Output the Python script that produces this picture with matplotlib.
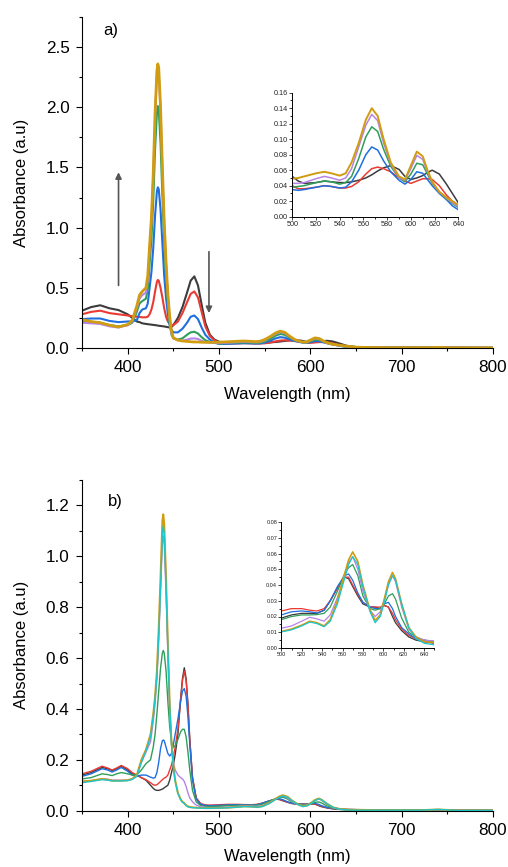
import numpy as np
import matplotlib
matplotlib.use("Agg")
import matplotlib.pyplot as plt
from matplotlib.ticker import MultipleLocator, FormatStrFormatter

plt.rcParams['font.family'] = ['Liberation Sans', 'DejaVu Sans']

# ---------------- Panel a data ----------------
a_wl = [350, 360, 370, 380, 390, 400, 405, 410, 413, 416,
        420, 422, 424, 426, 428, 430, 432, 433, 434, 436, 438, 440, 442, 444, 446, 448, 450,
        455, 460, 465, 469, 473, 477, 481, 485, 490, 495, 500, 505, 510, 520, 527, 533, 540, 545, 550, 556,
        562, 567, 572, 577, 583, 590, 595, 600, 605, 610, 614, 618, 624, 630, 635, 640, 650, 670, 700, 730,
        740, 750, 800]
a_black = [0.31, 0.34, 0.355, 0.33, 0.315, 0.28, 0.25, 0.22, 0.215, 0.205,
           0.2, 0.198, 0.196, 0.194, 0.192, 0.19, 0.188, 0.186, 0.185, 0.183, 0.181, 0.179, 0.176, 0.173, 0.171, 0.175, 0.19,
           0.25, 0.34, 0.46, 0.56, 0.595, 0.52, 0.36, 0.21, 0.11, 0.07, 0.052, 0.046, 0.043, 0.044, 0.046, 0.045, 0.044, 0.044, 0.045, 0.047,
           0.05, 0.054, 0.059, 0.063, 0.066, 0.061, 0.052, 0.048, 0.05, 0.053, 0.057, 0.06, 0.055, 0.042, 0.03, 0.018, 0.008, 0.004, 0.003, 0.004,
           0.008, 0.003, 0.001]
a_red = [0.28, 0.3, 0.31, 0.29, 0.28, 0.27, 0.265, 0.26, 0.258, 0.255,
         0.255, 0.26, 0.28, 0.32, 0.38, 0.47, 0.55, 0.565, 0.56, 0.5, 0.42, 0.33, 0.26, 0.22, 0.2, 0.19, 0.19,
         0.22, 0.29, 0.38, 0.45, 0.47, 0.42, 0.3, 0.18, 0.1, 0.065, 0.04, 0.036, 0.036, 0.038, 0.04, 0.039, 0.037, 0.037, 0.039, 0.045,
         0.055, 0.062, 0.064, 0.062, 0.058, 0.05, 0.046, 0.043, 0.046, 0.049, 0.049, 0.048, 0.04, 0.028, 0.02, 0.015, 0.007, 0.004, 0.003, 0.003,
         0.006, 0.003, 0.001]
a_blue = [0.24, 0.245, 0.245, 0.225, 0.215, 0.22, 0.222, 0.23, 0.29, 0.32,
          0.33, 0.37, 0.5, 0.63, 0.83, 1.1, 1.3, 1.335, 1.32, 1.15, 0.87, 0.6, 0.42, 0.28, 0.19, 0.15, 0.13,
          0.13, 0.16, 0.21, 0.26, 0.27, 0.24, 0.17, 0.11, 0.07, 0.045, 0.035, 0.034, 0.035, 0.038, 0.04, 0.039, 0.037, 0.038, 0.045, 0.06,
          0.08, 0.09, 0.086, 0.072, 0.058, 0.047, 0.042, 0.048, 0.058, 0.056, 0.048, 0.04, 0.03, 0.022, 0.014, 0.009, 0.005, 0.003, 0.002, 0.003,
          0.005, 0.002, 0.001]
a_green = [0.22, 0.215, 0.21, 0.19, 0.18, 0.19, 0.21, 0.3, 0.37, 0.39,
           0.41, 0.49, 0.7, 0.9, 1.22, 1.65, 1.95, 2.01, 1.98, 1.7, 1.27, 0.88, 0.6, 0.37, 0.2, 0.11, 0.08,
           0.07, 0.08, 0.11, 0.13, 0.135, 0.12, 0.09, 0.065, 0.05, 0.042, 0.038, 0.039, 0.04, 0.044, 0.046, 0.045, 0.042, 0.044, 0.052, 0.075,
           0.103, 0.116, 0.11, 0.087, 0.065, 0.05, 0.045, 0.055, 0.069, 0.067, 0.055, 0.043, 0.032, 0.023, 0.017, 0.012, 0.006, 0.003, 0.002, 0.003,
           0.005, 0.002, 0.001]
a_violet = [0.21, 0.205, 0.2, 0.18, 0.17, 0.19, 0.22, 0.33, 0.41, 0.44,
            0.46, 0.56, 0.82, 1.05, 1.42, 1.92, 2.27, 2.33, 2.3, 1.97, 1.48, 1.03, 0.7, 0.43, 0.24, 0.12, 0.08,
            0.065, 0.06, 0.07, 0.078, 0.08, 0.075, 0.06, 0.05, 0.045, 0.043, 0.043, 0.043, 0.044, 0.049, 0.052, 0.05, 0.047, 0.05, 0.062, 0.09,
            0.118, 0.132, 0.124, 0.095, 0.068, 0.05, 0.047, 0.062, 0.079, 0.074, 0.058, 0.044, 0.032, 0.024, 0.018, 0.013, 0.006, 0.003, 0.002, 0.003,
            0.005, 0.002, 0.001]
a_gold = [0.235, 0.22, 0.21, 0.19, 0.175, 0.195, 0.23, 0.35, 0.44, 0.47,
          0.5, 0.6, 0.85, 1.08, 1.45, 1.95, 2.3, 2.36, 2.33, 2.0, 1.5, 1.05, 0.72, 0.45, 0.26, 0.14, 0.085,
          0.065, 0.058, 0.055, 0.052, 0.05, 0.05, 0.048, 0.047, 0.047, 0.048, 0.049, 0.05, 0.052, 0.056, 0.058, 0.056, 0.053, 0.056, 0.07, 0.095,
          0.125, 0.14, 0.13, 0.1, 0.07, 0.052, 0.048, 0.066, 0.084, 0.078, 0.06, 0.045, 0.032, 0.025, 0.02, 0.015, 0.007, 0.003, 0.002, 0.003,
          0.005, 0.002, 0.001]

# ---------------- Panel b data ----------------
b_wl = [350, 360, 372, 378, 383, 388, 393, 400, 405, 410, 415, 420,
        425, 428, 430, 432, 434, 436, 438, 439, 440, 442, 444, 446, 448, 450, 452, 455, 458, 460, 462, 464, 466, 468, 471, 475,
        480, 485, 490, 500, 510, 520, 528, 535, 542, 548, 555, 562,
        566, 570, 575, 580, 587, 592, 597, 601, 605, 609, 612, 618, 625, 632, 640, 650, 680, 720, 740, 760, 800]
b_black = [0.14, 0.15, 0.17, 0.165, 0.158, 0.165, 0.175, 0.16, 0.145, 0.14, 0.13, 0.12,
           0.1, 0.088, 0.082, 0.08, 0.08, 0.082, 0.085, 0.087, 0.09, 0.095, 0.1, 0.12, 0.15, 0.18, 0.22, 0.3, 0.44, 0.52, 0.562, 0.52, 0.42, 0.28, 0.13, 0.05,
           0.025, 0.02, 0.019, 0.019, 0.021, 0.022, 0.022, 0.022, 0.024, 0.03, 0.038, 0.045,
           0.044, 0.039, 0.033, 0.028, 0.026, 0.026, 0.025, 0.027, 0.026, 0.02, 0.016, 0.011, 0.007, 0.005, 0.004, 0.003, 0.002, 0.002, 0.004, 0.001, 0.001]
b_red = [0.145, 0.155, 0.175, 0.168, 0.16, 0.168, 0.178, 0.165, 0.15, 0.14, 0.13, 0.122,
         0.11, 0.102, 0.1, 0.102, 0.108, 0.115, 0.122, 0.125, 0.128, 0.132, 0.14, 0.16, 0.18, 0.21, 0.25, 0.32, 0.44, 0.51, 0.548, 0.51, 0.41, 0.28, 0.13, 0.05,
         0.028, 0.023, 0.022, 0.0235, 0.025, 0.025, 0.024, 0.0235, 0.025, 0.03, 0.038, 0.045,
         0.045, 0.04, 0.034, 0.029, 0.026, 0.026, 0.026, 0.027, 0.026, 0.022, 0.018, 0.012, 0.008, 0.006, 0.005, 0.004, 0.002, 0.002, 0.004, 0.001, 0.001]
b_blue = [0.135, 0.145, 0.165, 0.16, 0.152, 0.16, 0.17, 0.155, 0.14, 0.135, 0.14, 0.14,
          0.132, 0.128, 0.13, 0.15, 0.19, 0.245, 0.275, 0.278, 0.275, 0.25, 0.225, 0.215, 0.225, 0.26, 0.3, 0.36, 0.43, 0.47, 0.48, 0.45, 0.37, 0.26, 0.12, 0.045,
          0.025, 0.021, 0.02, 0.021, 0.023, 0.0235, 0.023, 0.0222, 0.024, 0.03, 0.039, 0.046,
          0.047, 0.043, 0.035, 0.029, 0.026, 0.025, 0.025, 0.028, 0.029, 0.025, 0.02, 0.013, 0.009, 0.006, 0.004, 0.0035, 0.002, 0.002, 0.004, 0.001, 0.001]
b_green = [0.125, 0.13, 0.145, 0.142, 0.138, 0.145, 0.15, 0.145, 0.14, 0.14, 0.16, 0.185,
           0.2, 0.25, 0.3, 0.38, 0.47, 0.56, 0.62, 0.63, 0.62, 0.55, 0.43, 0.33, 0.27, 0.25, 0.255, 0.28, 0.31, 0.32, 0.32, 0.29, 0.23, 0.16, 0.08, 0.035,
           0.02, 0.017, 0.016, 0.018, 0.02, 0.021, 0.021, 0.0212, 0.022, 0.026, 0.036, 0.047,
           0.051, 0.053, 0.046, 0.033, 0.025, 0.024, 0.025, 0.028, 0.033, 0.0345, 0.031, 0.019, 0.01, 0.007, 0.005, 0.004, 0.002, 0.002, 0.004, 0.001, 0.001]
b_violet = [0.115, 0.118, 0.125, 0.124, 0.12, 0.12, 0.12, 0.12, 0.125, 0.14, 0.19, 0.23,
            0.27, 0.35, 0.42, 0.52, 0.67, 0.86, 1.05, 1.08, 1.05, 0.86, 0.62, 0.4, 0.26, 0.19, 0.16, 0.14, 0.13, 0.125, 0.115, 0.095, 0.07, 0.05, 0.035, 0.022,
            0.016, 0.013, 0.012, 0.0125, 0.014, 0.017, 0.0195, 0.0185, 0.017, 0.021, 0.032, 0.046,
            0.054, 0.058, 0.05, 0.036, 0.024, 0.02, 0.023, 0.031, 0.04, 0.046, 0.042, 0.026, 0.012, 0.007, 0.005, 0.0045, 0.002, 0.002, 0.004, 0.001, 0.001]
b_gold = [0.115, 0.118, 0.125, 0.122, 0.118, 0.118, 0.118, 0.12, 0.125, 0.14, 0.2, 0.24,
          0.3, 0.38, 0.45, 0.55, 0.72, 0.92, 1.14, 1.165, 1.13, 0.92, 0.66, 0.42, 0.27, 0.18, 0.12, 0.07, 0.045, 0.035, 0.03, 0.022, 0.017, 0.015, 0.013, 0.012,
          0.011, 0.01, 0.01, 0.0105, 0.012, 0.0145, 0.017, 0.016, 0.014, 0.018, 0.03, 0.047,
          0.056, 0.061, 0.055, 0.04, 0.024, 0.0175, 0.021, 0.031, 0.042, 0.048, 0.044, 0.028, 0.013, 0.007, 0.004, 0.0035, 0.002, 0.002, 0.005, 0.001, 0.001]
b_cyan = [0.11, 0.115, 0.122, 0.12, 0.117, 0.117, 0.117, 0.118, 0.123, 0.135, 0.19, 0.235,
          0.29, 0.37, 0.44, 0.53, 0.69, 0.88, 1.09, 1.12, 1.09, 0.89, 0.64, 0.41, 0.26, 0.17, 0.115, 0.067, 0.043, 0.033, 0.028, 0.02, 0.015, 0.013, 0.012, 0.011,
          0.01, 0.0095, 0.0095, 0.0102, 0.0115, 0.014, 0.0165, 0.0155, 0.0135, 0.017, 0.028, 0.044,
          0.053, 0.058, 0.053, 0.039, 0.023, 0.016, 0.02, 0.029, 0.04, 0.046, 0.043, 0.028, 0.013, 0.006, 0.003, 0.002, 0.002, 0.002, 0.005, 0.001, 0.001]

xticks_main = [400, 500, 600, 700, 800]

C_BLACK = '#3c3c3c'
C_RED = '#ea3a33'
C_BLUE = '#1f6fe0'
C_GREEN = '#2f9e5a'
C_VIOLET = '#b683e8'
C_GOLD = '#d09c10'
C_CYAN = '#1cc6cc'

a_series = [(a_black, C_BLACK), (a_red, C_RED), (a_blue, C_BLUE), (a_green, C_GREEN),
            (a_violet, C_VIOLET), (a_gold, C_GOLD)]
b_series = [(b_black, C_BLACK), (b_red, C_RED), (b_blue, C_BLUE), (b_green, C_GREEN),
            (b_violet, C_VIOLET), (b_gold, C_GOLD), (b_cyan, C_CYAN)]

W, H = 508, 867
fig = plt.figure(figsize=(W / 100, H / 100), dpi=100)


def style_main(ax):
    for s in ['top', 'right']:
        ax.spines[s].set_visible(False)
    ax.tick_params(direction='out', labelsize=12.3, length=4, width=0.8, pad=5)
    ax.tick_params(which='minor', direction='out', length=2.5, width=0.8)
    ax.xaxis.set_minor_locator(MultipleLocator(50))
    ax.set_xlim(350, 800)
    ax.set_xticks(xticks_main)
    ax.set_xlabel('Wavelength (nm)', fontsize=12, labelpad=8)
    ax.set_ylabel('Absorbance (a.u)', fontsize=12, labelpad=12)


def style_inset(ax, fs):
    for s in ['top', 'right']:
        ax.spines[s].set_visible(False)
    ax.tick_params(direction='out', labelsize=fs, length=2, width=0.6, pad=1, colors='#222222')
    ax.tick_params(which='minor', direction='out', length=1.2, width=0.6)
    for s in ['left', 'bottom']:
        ax.spines[s].set_linewidth(0.7)


def fx(px):
    return px / W


def fy(py):
    return 1 - py / H


# ---- Panel a main ----
axa = fig.add_axes([fx(82), fy(348), fx(493) - fx(82), fy(17) - fy(348)])
for vals, c in a_series:
    lw = 2.0 if c == C_GOLD else 1.5
    axa.plot(a_wl, vals, color=c, lw=lw)
axa.set_ylim(0, 2.75)
axa.set_yticks([0.0, 0.5, 1.0, 1.5, 2.0, 2.5])
axa.yaxis.set_minor_locator(MultipleLocator(0.25))
style_main(axa)
axa.text(381, 2.64, 'a)', fontsize=12, ha='center', va='center')
axa.annotate('', xy=(390, 1.46), xytext=(390, 0.52),
             arrowprops=dict(arrowstyle='-|>', color='#555555', lw=1.2,
                             mutation_scale=9, shrinkA=0, shrinkB=0))
axa.annotate('', xy=(489, 0.29), xytext=(489, 0.80),
             arrowprops=dict(arrowstyle='-|>', color='#555555', lw=1.2,
                             mutation_scale=9, shrinkA=0, shrinkB=0))

# ---- Panel a inset ----
axai = fig.add_axes([fx(292.3), fy(216.7), fx(458.3) - fx(292.3), fy(92.7) - fy(216.7)])
for vals, c in a_series:
    lw = 1.4 if c == C_GOLD else 1.1
    axai.plot(a_wl, vals, color=c, lw=lw)
axai.set_xlim(500, 640)
axai.set_ylim(0, 0.16)
axai.set_xticks(np.arange(500, 641, 20))
axai.set_yticks(np.arange(0, 0.161, 0.02))
axai.yaxis.set_major_formatter(FormatStrFormatter('%.2f'))
axai.xaxis.set_minor_locator(MultipleLocator(10))
axai.yaxis.set_minor_locator(MultipleLocator(0.01))
style_inset(axai, 5.2)

# ---- Panel b main ----
axb = fig.add_axes([fx(82), fy(810.7), fx(493) - fx(82), fy(480) - fy(810.7)])
for vals, c in b_series:
    lw = 1.4 if c == C_GOLD else 1.0
    axb.plot(b_wl, vals, color=c, lw=lw)
axb.set_ylim(0, 1.30)
axb.set_yticks([0.0, 0.2, 0.4, 0.6, 0.8, 1.0, 1.2])
axb.yaxis.set_minor_locator(MultipleLocator(0.1))
style_main(axb)
axb.text(386.5, 1.215, 'b)', fontsize=12, ha='center', va='center')

# ---- Panel b inset ----
axbi = fig.add_axes([fx(281.3), fy(648), fx(434.3) - fx(281.3), fy(522) - fy(648)])
for vals, c in b_series:
    lw = 1.2 if c == C_GOLD else 0.9
    axbi.plot(b_wl, vals, color=c, lw=lw)
axbi.set_xlim(500, 650)
axbi.set_ylim(0, 0.08)
axbi.set_xticks(np.arange(500, 641, 20))
axbi.set_yticks(np.arange(0, 0.081, 0.01))
axbi.yaxis.set_major_formatter(FormatStrFormatter('%.2f'))
axbi.xaxis.set_minor_locator(MultipleLocator(10))
axbi.yaxis.set_minor_locator(MultipleLocator(0.005))
style_inset(axbi, 4.0)

fig.savefig('out.png', dpi=100)
